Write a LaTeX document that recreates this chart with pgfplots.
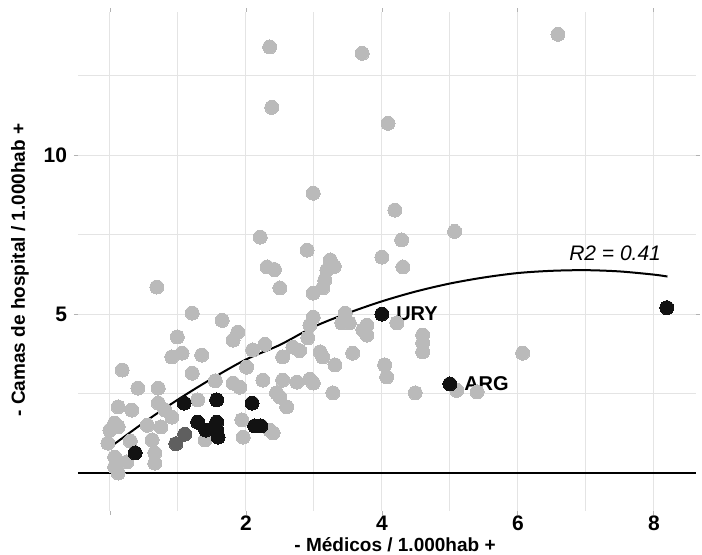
\documentclass[border=0pt]{standalone}
\usepackage{fontspec}
\setmainfont{Liberation Sans}
\usepackage{pgfplots}
\pgfplotsset{compat=1.18}
\definecolor{ptgray}{RGB}{186,186,186}
\definecolor{ptmid}{RGB}{95,95,95}
\definecolor{ptdark}{RGB}{18,18,18}
\definecolor{gridc}{RGB}{228,228,228}
\begin{document}
\begin{tikzpicture}
\useasboundingbox (-39pt,-21.5pt) rectangle (312pt,255.5pt);
\begin{axis}[
 scale only axis, width=309pt, height=249.5pt,
 xmin=-0.47, xmax=8.62, ymin=-1.195, ymax=14.5,
 axis line style={draw=none},
 xtick={0,2,4,6,8}, xticklabels={,2,4,6,8},
 minor xtick={1,3,5,7},
 ytick={5,10}, minor ytick={2.5,7.5,12.5},
 grid=both,
 major grid style={gridc, line width=0.5pt},
 minor grid style={gridc, line width=0.5pt},
 tick align=outside, major tick length=2pt, minor tick length=0pt,
 tick style={gray!60, line width=0.4pt},
 ticklabel style={font=\fontsize{10.5}{12}\selectfont\bfseries},
 xticklabel style={yshift=3pt},
 /pgf/number format/assume math mode=true,
 extra y ticks={0}, extra y tick labels={},
 extra y tick style={grid=major, major grid style={black, line width=1.1pt}, major tick length=0pt},
 xlabel={- Médicos / 1.000hab +},
 ylabel={- Camas de hospital / 1.000hab +},
 label style={font=\fontsize{9.5}{11}\selectfont\bfseries},
 xlabel style={at={([yshift=-17pt]axis description cs:0.513,0)}, anchor=center, inner sep=0pt},
 ylabel style={at={([xshift=-29pt]axis description cs:0,0.483)}, anchor=center},
 clip=false,
]
% gray countries
\addplot[only marks, mark=*, mark size=3.5pt, color=ptgray, mark options={fill=ptgray, draw=ptgray, line width=0pt}] coordinates {
(2.35,13.4) (3.71,13.2) (6.59,13.8) (2.38,11.5) (4.09,11.0)
(2.99,8.8) (4.19,8.27) (5.07,7.6) (2.21,7.42) (4.29,7.33)
(2.90,7.01) (3.24,6.70) (4.0,6.79) (4.31,6.48) (2.31,6.48)
(2.42,6.40) (3.19,6.38) (3.30,6.50) (3.16,6.07) (2.99,5.66)
(3.13,5.82) (2.5,5.82) (0.69,5.85) (2.99,4.9) (3.46,5.03)
(3.41,4.72) (3.52,4.72) (3.72,4.5) (3.78,4.65) (3.78,4.34)
(4.22,4.72) (4.6,4.34) (4.6,4.09) (4.6,3.81) (2.94,4.65)
(2.91,4.25) (2.79,3.85) (3.09,3.81) (3.57,3.77) (3.31,3.40)
(4.04,3.40) (4.07,3.02) (2.28,4.05) (2.01,3.33) (1.81,2.83)
(1.91,2.7) (2.25,2.92) (2.54,2.92) (2.75,2.86) (2.99,2.83)
(2.45,2.52) (2.6,2.08) (2.5,2.39) (3.28,2.52) (4.49,2.52)
(2.4,1.26) (6.07,3.77) (5.1,2.6) (5.4,2.55) (2.54,3.65)
(2.69,3.96) (3.13,3.65) (2.94,2.95)
(1.21,5.03) (1.65,4.8) (1.88,4.43) (1.81,4.18) (0.99,4.28)
(0.91,3.65) (1.06,3.77) (1.35,3.71) (0.18,3.24) (1.21,3.14)
(0.41,2.67) (0.71,2.67) (0.12,2.08) (0.32,1.98) (0.71,2.2)
(0.81,1.98) (0.0,1.35) (0.12,1.45) (-0.03,0.94) (0.07,0.5)
(0.07,0.19) (0.12,0.0) (0.62,1.04) (0.66,0.63) (0.66,0.31)
(0.91,1.76) (1.29,2.3) (1.4,1.04) (1.96,1.13) (0.25,0.35)
(0.3,1.0) (0.55,1.5) (0.75,1.45) (1.94,1.67) (2.35,1.35)
(0.07,1.57) (1.55,2.9) (2.1,3.87)
};
% darker overlapping points
\addplot[only marks, mark=*, mark size=3.5pt, color=ptmid, mark options={fill=ptmid, draw=ptmid, line width=0pt}] coordinates {
(1.1,1.22) (0.97,0.92)
};
% fitted curve
\addplot[black, line width=1pt, smooth] coordinates {
(0,0.81) (0.5,1.59) (1,2.31) (1.5,2.97) (2,3.57) (2.5,4.03) (3,4.6)
(3.5,5.03) (4,5.4) (4.5,5.71) (5,5.96) (5.5,6.15) (6,6.29) (6.5,6.36)
(7,6.38) (7.5,6.34) (8,6.24) (8.2,6.18)
};
% highlighted countries
\addplot[only marks, mark=*, mark size=3.5pt, color=ptdark, mark options={fill=ptdark, draw=ptdark, line width=0pt}] coordinates {
(0.37,0.63) (1.09,2.2) (1.57,2.3) (2.09,2.2) (1.29,1.6) (1.41,1.35)
(1.57,1.6) (1.59,1.13) (1.57,1.35) (2.13,1.48) (2.22,1.48)
(4.0,5.0) (5.0,2.8) (8.19,5.2)
};
\node[anchor=west, inner sep=0pt, xshift=7pt, font=\fontsize{10}{12}\selectfont\bfseries] at (axis cs:4.0,5.0) {URY};
\node[anchor=west, inner sep=0pt, xshift=7pt, font=\fontsize{10}{12}\selectfont\bfseries] at (axis cs:5.0,2.8) {ARG};
\node[font=\fontsize{10.5}{12}\selectfont\itshape] at (axis cs:7.43,6.92) {R2 = 0.41};
\end{axis}
\end{tikzpicture}
\end{document}
